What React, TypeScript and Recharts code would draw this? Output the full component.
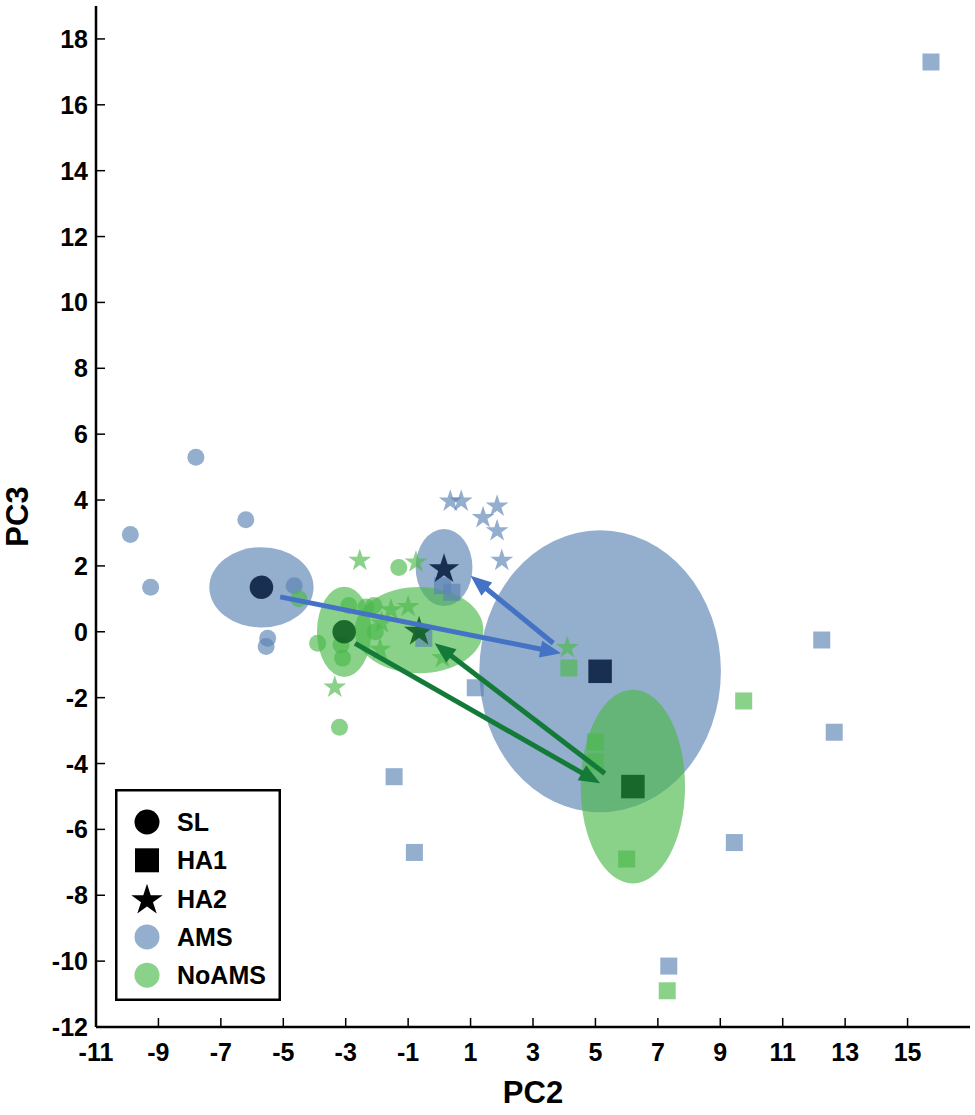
import React from "react";
import {
  ScatterChart,
  Scatter,
  XAxis,
  YAxis,
  ReferenceArea,
  ReferenceLine,
  Legend,
} from "recharts";

type Pt = [number, number];

const FONT = '"Liberation Sans", Arial, sans-serif';

const xTicks = [-11, -9, -7, -5, -3, -1, 1, 3, 5, 7, 9, 11, 13, 15];
const yTicks = [-12, -10, -8, -6, -4, -2, 0, 2, 4, 6, 8, 10, 12, 14, 16, 18];
const legendLabels = ["SL", "HA1", "HA2", "AMS", "NoAMS"];
const stages = ["SL", "HA1", "HA2"];

// single subjects, AMS group (SL = circle, HA1 = square, HA2 = star)
const amsSL: Pt[] = [[-7.8, 5.3], [-9.9, 2.95], [-6.2, 3.4], [-9.25, 1.35], [-4.65, 1.4], [-5.5, -0.2], [-5.55, -0.45]];
const amsHA1: Pt[] = [[15.75, 17.3], [12.25, -0.25], [12.65, -3.05], [9.45, -6.4], [7.35, -10.15], [-1.45, -4.4], [-0.8, -6.7], [1.15, -1.7], [0.1, 1.4], [0.4, 1.2], [-0.5, -0.2]];
const amsHA2: Pt[] = [[0.35, 4.0], [0.7, 4.0], [1.85, 3.85], [1.4, 3.5], [1.85, 3.1], [2.0, 2.2]];

// single subjects, NoAMS group
const noAmsSL: Pt[] = [[-4.5, 1.0], [-3.9, -0.35], [-3.15, -0.4], [-3.1, -0.8], [-2.9, 0.8], [-2.35, 0.75], [-2.1, 0.8], [-2.05, 0.0], [-1.3, 1.95], [-3.2, -2.9]];
const noAmsHA1: Pt[] = [[9.75, -2.1], [7.3, -10.9], [5.0, -3.35], [5.0, -3.95], [6.0, -6.9], [4.15, -1.1]];
const noAmsHA2: Pt[] = [[-2.55, 2.2], [-0.75, 2.15], [-1.0, 0.8], [-1.55, 0.7], [-1.85, 0.3], [-1.9, -0.5], [-3.35, -1.65], [0.1, -0.75], [4.1, -0.45]];

// group means per stage (SL, HA1, HA2) and ellipse half axes (x, y)
const amsMeans: Pt[] = [[-5.7, 1.35], [5.15, -1.2], [0.15, 1.95]];
const noAmsMeans: Pt[] = [[-3.05, 0.0], [6.2, -4.7], [-0.65, 0.05]];
const amsSpread: Pt[] = [[1.67, 1.22], [3.87, 4.28], [0.91, 1.17]];
const noAmsSpread: Pt[] = [[0.87, 1.37], [1.67, 2.94], [2.06, 1.31]];

// stage transitions [from, to]
const amsArrows: [Pt, Pt][] = [[[-5.1, 1.06], [3.9, -0.65]], [[3.65, -0.35], [1.0, 1.7]]];
const noAmsArrows: [Pt, Pt][] = [[[-2.7, -0.35], [5.15, -4.6]], [[5.3, -4.3], [-0.15, -0.35]]];

const AMS_FILL = "#5a82b3";
const NOAMS_FILL = "#4cb84c";
const AMS_DARK = "#11284a";
const NOAMS_DARK = "#0a5a1c";
const AMS_ARROW = "#4472c4";
const NOAMS_ARROW = "#137a38";
const ALPHA = 0.65;

const toXY = (pts: Pt[]) => pts.map(([x, y]) => ({ x, y }));

const starPoints = (cx: number, cy: number, R: number) => {
  const r = R * 0.382;
  const pts: string[] = [];
  for (let i = 0; i < 10; i++) {
    const a = -Math.PI / 2 + (i * Math.PI) / 5;
    const rad = i % 2 === 0 ? R : r;
    pts.push(`${cx + rad * Math.cos(a)},${cy + rad * Math.sin(a)}`);
  }
  return pts.join(" ");
};

const Marker = ({ kind, cx, cy, size, fill, opacity }: any) => {
  if (kind === "SL") return <circle cx={cx} cy={cy} r={size / 2} fill={fill} fillOpacity={opacity} />;
  if (kind === "HA1")
    return <rect x={cx - size / 2} y={cy - size / 2} width={size} height={size} fill={fill} fillOpacity={opacity} />;
  return <polygon points={starPoints(cx, cy + size * 0.05, size / 2)} fill={fill} fillOpacity={opacity} />;
};

const markerShape = (kind: string, size: number, fill: string, opacity: number) => (props: any) =>
  <Marker kind={kind} cx={props.cx} cy={props.cy} size={size} fill={fill} opacity={opacity} />;

const ellipseShape = (fill: string, opacity: number) => (props: any) => {
  const { x, y, width, height } = props;
  return (
    <ellipse
      cx={x + width / 2}
      cy={y + height / 2}
      rx={Math.abs(width) / 2}
      ry={Math.abs(height) / 2}
      fill={fill}
      fillOpacity={opacity}
    />
  );
};

const arrowShape = (color: string) => (props: any) => {
  const { x1, y1, x2, y2 } = props;
  const len = Math.hypot(x2 - x1, y2 - y1) || 1;
  const ux = (x2 - x1) / len;
  const uy = (y2 - y1) / len;
  const head = 21;
  const half = 8.5;
  const bx = x2 - ux * head;
  const by = y2 - uy * head;
  return (
    <g>
      <line x1={x1} y1={y1} x2={bx + ux * 2} y2={by + uy * 2} stroke={color} strokeWidth={5} />
      <polygon
        points={`${x2},${y2} ${bx - uy * half},${by + ux * half} ${bx + uy * half},${by - ux * half}`}
        fill={color}
      />
    </g>
  );
};

const renderXTick = ({ x, y, payload }: any) => (
  <g>
    <line x1={x} x2={x} y1={y - 8} y2={y - 17} stroke="#000" strokeWidth={1.5} />
    <text x={x} y={y + 26} textAnchor="middle" fontFamily={FONT} fontWeight="bold" fontSize={25} fill="#000">
      {payload.value}
    </text>
  </g>
);

const renderYTick = ({ x, y, payload }: any) => (
  <g>
    <line x1={x + 8} x2={x + 17} y1={y} y2={y} stroke="#000" strokeWidth={1.5} />
    <text x={x} y={y} dy="0.36em" textAnchor="end" fontFamily={FONT} fontWeight="bold" fontSize={25} fill="#000">
      {payload.value}
    </text>
  </g>
);

const legendSymbols = [
  { kind: "SL", fill: "#000", opacity: 1, size: 25 },
  { kind: "HA1", fill: "#000", opacity: 1, size: 24 },
  { kind: "HA2", fill: "#000", opacity: 1, size: 33 },
  { kind: "SL", fill: AMS_FILL, opacity: ALPHA, size: 25 },
  { kind: "SL", fill: NOAMS_FILL, opacity: ALPHA, size: 25 },
];

const renderLegend = () => (
  <svg width={166} height={212} style={{ display: "block" }}>
    <rect x={1.25} y={1.25} width={163.5} height={209.5} fill="#fff" stroke="#000" strokeWidth={2.5} />
    {legendLabels.map((label, i) => {
      const cy = 33 + i * 38.3;
      const s = legendSymbols[i];
      return (
        <g key={label}>
          <Marker kind={s.kind} cx={32} cy={cy} size={s.size} fill={s.fill} opacity={s.opacity} />
          <text x={62} y={cy} dy="0.36em" fontFamily={FONT} fontWeight="bold" fontSize={25} fill="#000">
            {label}
          </text>
        </g>
      );
    })}
  </svg>
);

const amsPoints = [amsSL, amsHA1, amsHA2];
const noAmsPoints = [noAmsSL, noAmsHA1, noAmsHA2];

export default function App() {
  return (
    <div style={{ position: "absolute", left: 0, top: 0, background: "#fff" }}>
      <ScatterChart width={975} height={1115} margin={{ top: 6, right: 5, bottom: 8, left: 36 }}>
        <XAxis
          type="number"
          dataKey="x"
          domain={[-11, 17]}
          ticks={xTicks}
          interval={0}
          allowDataOverflow
          height={80}
          tickLine={false}
          tick={renderXTick}
          axisLine={{ stroke: "#000", strokeWidth: 2.5 }}
          label={{
            value: "PC2",
            position: "insideBottom",
            offset: 4,
            fontSize: 31,
            fontWeight: "bold",
            fill: "#000",
            fontFamily: FONT,
          }}
        />
        <YAxis
          type="number"
          dataKey="y"
          domain={[-12, 19]}
          ticks={yTicks}
          interval={0}
          allowDataOverflow
          width={60}
          tickLine={false}
          tick={renderYTick}
          axisLine={{ stroke: "#000", strokeWidth: 2.5 }}
          label={{
            value: "PC3",
            angle: -90,
            position: "insideLeft",
            offset: -19,
            fontSize: 31,
            fontWeight: "bold",
            fill: "#000",
            fontFamily: FONT,
            style: { textAnchor: "middle" },
          }}
        />

        {amsMeans.map(([mx, my], i) => (
          <ReferenceArea
            key={`ae-${i}`}
            x1={mx - amsSpread[i][0]}
            x2={mx + amsSpread[i][0]}
            y1={my - amsSpread[i][1]}
            y2={my + amsSpread[i][1]}
            shape={ellipseShape(AMS_FILL, ALPHA)}
            ifOverflow="visible"
            zIndex={50}
          />
        ))}
        {noAmsMeans.map(([mx, my], i) => (
          <ReferenceArea
            key={`ne-${i}`}
            x1={mx - noAmsSpread[i][0]}
            x2={mx + noAmsSpread[i][0]}
            y1={my - noAmsSpread[i][1]}
            y2={my + noAmsSpread[i][1]}
            shape={ellipseShape(NOAMS_FILL, ALPHA)}
            ifOverflow="visible"
            zIndex={50}
          />
        ))}

        {stages.map((st, i) => (
          <Scatter
            key={`ap-${st}`}
            data={toXY(amsPoints[i])}
            shape={markerShape(st, st === "HA2" ? 24 : 17, AMS_FILL, ALPHA)}
            isAnimationActive={false}
            legendType="none"
          />
        ))}
        {stages.map((st, i) => (
          <Scatter
            key={`np-${st}`}
            data={toXY(noAmsPoints[i])}
            shape={markerShape(st, st === "HA2" ? 24 : 17, NOAMS_FILL, ALPHA)}
            isAnimationActive={false}
            legendType="none"
          />
        ))}
        {stages.map((st, i) => (
          <Scatter
            key={`am-${st}`}
            data={toXY([amsMeans[i]])}
            shape={markerShape(st, st === "HA2" ? 32 : 23.5, AMS_DARK, 0.95)}
            isAnimationActive={false}
            legendType="none"
          />
        ))}
        {stages.map((st, i) => (
          <Scatter
            key={`nm-${st}`}
            data={toXY([noAmsMeans[i]])}
            shape={markerShape(st, st === "HA2" ? 32 : 23.5, NOAMS_DARK, 0.85)}
            isAnimationActive={false}
            legendType="none"
          />
        ))}

        {amsArrows.map(([a, b], i) => (
          <ReferenceLine
            key={`aa-${i}`}
            segment={[{ x: a[0], y: a[1] }, { x: b[0], y: b[1] }]}
            shape={arrowShape(AMS_ARROW)}
            ifOverflow="visible"
            zIndex={1500}
          />
        ))}
        {noAmsArrows.map(([a, b], i) => (
          <ReferenceLine
            key={`na-${i}`}
            segment={[{ x: a[0], y: a[1] }, { x: b[0], y: b[1] }]}
            shape={arrowShape(NOAMS_ARROW)}
            ifOverflow="visible"
            zIndex={1500}
          />
        ))}

        <Legend
          content={renderLegend}
          layout="horizontal"
          verticalAlign="middle"
          align="center"
          wrapperStyle={{ left: 115, top: 789, width: 166, height: 212 }}
        />
      </ScatterChart>
    </div>
  );
}
